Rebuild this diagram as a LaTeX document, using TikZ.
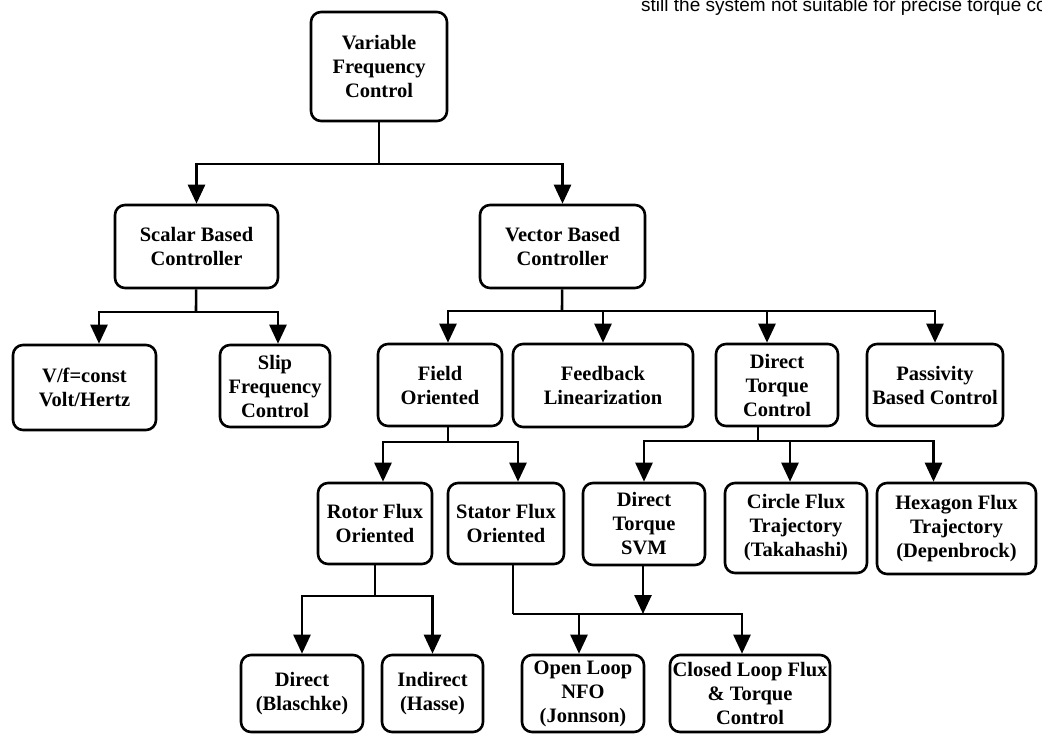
\documentclass[tikz,border=0pt]{standalone}
\usepackage{fontspec}
\setmainfont{Liberation Serif}
\newfontfamily\notefont{Liberation Sans}
\usetikzlibrary{arrows.meta}

\tikzset{
  box/.style={draw, line width=2.6pt, rounded corners=10pt, align=center,
    inner sep=0pt, font=\bfseries\fontsize{20.5}{24}\selectfont},
  link/.style={line width=2.6pt},
  arr/.style={link, -{Triangle[length=19pt,width=17pt]}},
}
% place a box by its corners (left, top, right, bottom), y counted downward
\newcommand{\cbox}[6]{%
  \node[box, minimum width={#4-#2}, minimum height={#5-#3}]
    (#1) at ({(#2+#4)/2},{(#3+#5)/2}) {#6};}

\begin{document}
\begin{tikzpicture}[x=1pt, y=-1pt]
\clip (0,0) rectangle (1042,734);
\useasboundingbox (0,0) rectangle (1042,734);

\node[anchor=base west, inner sep=0pt, font=\notefont\fontsize{19}{22}\selectfont]
  (note) at (641,11) {still the system not suitable for precise torque co};

% level 0 and 1
\cbox{vfc}{311}{12}{447}{121}{Variable\\Frequency\\Control}
\cbox{sbc}{115}{205}{278}{288}{Scalar Based\\Controller}
\cbox{vbc}{480}{205}{645}{288}{Vector Based\\Controller}

% level 2
\cbox{vf}{13}{345}{156}{430}{V/f=const\\Volt/Hertz}
\cbox{slip}{220}{345}{330}{427}{Slip\\Frequency\\Control}
\cbox{fo}{378}{344}{502}{426}{Field\\Oriented}
\cbox{fl}{513}{344}{693}{427}{Feedback\\Linearization}
\cbox{dtc}{716}{344}{838}{426}{Direct\\Torque\\Control}
\cbox{pbc}{867}{344}{1003}{426}{Passivity\\Based Control}

% level 3
\cbox{rfo}{318}{483}{432}{564}{Rotor Flux\\Oriented}
\cbox{sfo}{448}{483}{564}{564}{Stator Flux\\Oriented}
\cbox{dts}{583}{483}{705}{565}{Direct\\Torque\\SVM}
\cbox{cft}{725}{483}{867}{573}{Circle Flux\\Trajectory\\(Takahashi)}
\cbox{hft}{877}{483}{1036}{574}{Hexagon Flux\\Trajectory\\(Depenbrock)}

% level 4
\cbox{dir}{241}{655}{363}{732}{Direct\\(Blaschke)}
\cbox{ind}{382}{655}{483}{732}{Indirect\\(Hasse)}
\cbox{ol}{522}{655}{644}{732}{Open Loop\\NFO\\(Jonnson)}
\cbox{cl}{670}{655}{830}{732}{Closed Loop Flux\\\& Torque\\Control}

% junctions on the buses
\coordinate (j0) at (379,164);
\coordinate (j1) at (196,312);
\coordinate (j2) at (562,311);
\coordinate (j3) at (448,442);
\coordinate (j4) at (758,441);
\coordinate (j5) at (375,596);
\coordinate (j6) at (513,614);
\coordinate (j7) at (643,614);

% Variable Frequency Control
\draw[link] (vfc) -- (j0);
\draw[arr] (j0) -| (sbc.north);
\draw[arr] (j0) -| (vbc.north);

% Scalar Based Controller
\draw[link] (sbc) -- (j1);
\draw[arr] (j1) -| ([xshift=14.5pt]vf.north);
\draw[arr] (j1) -| ([xshift=3pt]slip.north);

% Vector Based Controller
\draw[link] (vbc) -- (j2);
\draw[arr] (j2) -| ([xshift=8pt]fo.north);
\draw[arr] (j2) -| (fl.north);
\draw[arr] (j2) -| ([xshift=-10pt]dtc.north);
\draw[arr] (j2) -| (pbc.north);

% Field Oriented
\draw[link] (fo.south -| j3) -- (j3);
\draw[arr] (j3) -| ([xshift=8pt]rfo.north);
\draw[arr] (j3) -| ([xshift=12pt]sfo.north);

% Direct Torque Control
\draw[link] (dtc.south -| j4) -- (j4);
\draw[arr] (j4) -| (dts.north);
\draw[arr] (j4) -| ([xshift=-6pt]cft.north);
\draw[arr] (j4) -| ([xshift=-23pt]hft.north);

% Rotor Flux Oriented
\draw[link] (rfo) -- (j5);
\draw[arr] (j5) -| (dir.north);
\draw[arr] (j5) -| (ind.north);

% Stator Flux Oriented and Direct Torque SVM share one bus
\draw[link] (sfo.south -| j6) -- (j6);
\draw[arr] (dts.south -| j7) -- (j7);
\draw[arr] (j6) -| ([xshift=-4pt]ol.north);
\draw[arr] (j6) -| ([xshift=-8pt]cl.north);

\end{tikzpicture}
\end{document}
